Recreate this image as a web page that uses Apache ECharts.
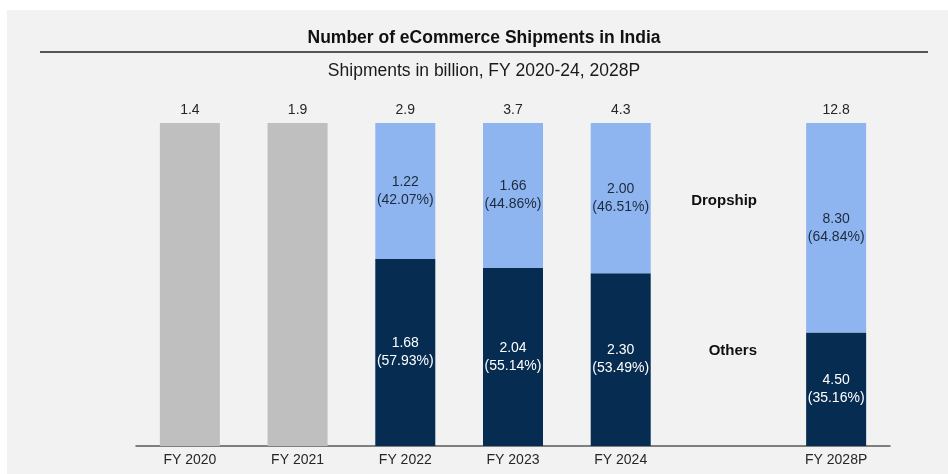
<!DOCTYPE html>
<html>
<head>
<meta charset="utf-8">
<script src="https://cdn.jsdelivr.net/npm/echarts@6/dist/echarts.min.js"></script>
<style>
  html, body { margin: 0; padding: 0; background: #ffffff; }
  #chart { width: 948px; height: 474px; }
</style>
</head>
<body>
<div id="chart"></div>
<script>
// Shipments in billion; the blank category keeps a gap before the projection year
const categories = ['FY 2020', 'FY 2021', 'FY 2022', 'FY 2023', 'FY 2024', '', 'FY 2028P'];
const totals     = [1.4, 1.9, 2.9, 3.7, 4.3, null, 12.8];
const others     = [null, null, 1.68, 2.04, 2.30, null, 4.50];
const dropship   = [null, null, 1.22, 1.66, 2.00, null, 8.30];

const FONT = '"Liberation Sans", Arial, sans-serif';

function pct(v, t) {
  return Math.round((v / t) * 10000 + 1e-6) / 100;
}

// Every bar is drawn as a 100% column; split years show each segment's share
const grayShare = totals.map((t, i) => (t != null && others[i] == null) ? 100 : null);
const othersShare = others.map((v, i) => v == null ? null : { value: v / totals[i] * 100, raw: v, share: pct(v, totals[i]) });
const dropShare = dropship.map((v, i) => v == null ? null : { value: v / totals[i] * 100, raw: v, share: pct(v, totals[i]) });
const topLine = totals.map(t => t == null ? null : 100);

function segLabel(p) {
  return p.data.raw.toFixed(2) + '\n(' + p.data.share.toFixed(2) + '%)';
}

const chart = echarts.init(document.getElementById('chart'), null, { renderer: 'canvas' });

chart.setOption({
  backgroundColor: '#f2f2f2',
  animation: false,
  grid: { left: 136, right: 58, top: 123, bottom: 28 },
  xAxis: {
    type: 'category',
    data: categories,
    axisTick: { show: false },
    axisLine: { lineStyle: { color: '#595959', width: 1.5 } },
    axisLabel: { color: '#262626', fontSize: 14, fontFamily: FONT, margin: 7 }
  },
  yAxis: { type: 'value', min: 0, max: 100, show: false },
  series: [
    {
      name: 'Total', type: 'bar', stack: 's', barWidth: 60,
      data: grayShare,
      itemStyle: { color: '#bfbfbf' }
    },
    {
      name: 'Others', type: 'bar', stack: 's', barWidth: 60,
      data: othersShare,
      itemStyle: { color: '#062c51' },
      label: {
        show: true, position: 'inside', formatter: segLabel,
        color: '#ffffff', fontSize: 14, lineHeight: 18, fontFamily: FONT
      }
    },
    {
      name: 'Dropship', type: 'bar', stack: 's', barWidth: 60,
      data: dropShare,
      itemStyle: { color: '#8fb5f1' },
      label: {
        show: true, position: 'inside', formatter: segLabel,
        color: '#1c2b3c', fontSize: 14, lineHeight: 18, fontFamily: FONT
      }
    },
    {
      name: 'TotalLabel', type: 'line',
      data: topLine,
      symbol: 'circle', symbolSize: 1,
      itemStyle: { color: 'rgba(0,0,0,0)' },
      lineStyle: { width: 0, color: 'rgba(0,0,0,0)' },
      label: {
        show: true, position: 'top', distance: 5,
        formatter: p => totals[p.dataIndex].toFixed(1),
        color: '#262626', fontSize: 14, fontFamily: FONT
      },
      z: 5
    }
  ],
  graphic: [
    { type: 'rect', shape: { x: 0, y: 0, width: 948, height: 10 }, style: { fill: '#ffffff' }, silent: true },
    { type: 'rect', shape: { x: 0, y: 0, width: 7, height: 474 }, style: { fill: '#ffffff' }, silent: true },
    {
      type: 'text', x: 484, y: 38,
      style: { text: 'Number of eCommerce Shipments in India', fill: '#111111',
               font: 'bold 17.5px ' + FONT, textAlign: 'center', textVerticalAlign: 'middle' }
    },
    {
      type: 'line', shape: { x1: 40, y1: 52, x2: 928, y2: 52 },
      style: { stroke: '#555555', lineWidth: 2 }
    },
    {
      type: 'text', x: 484, y: 71,
      style: { text: 'Shipments in billion, FY 2020-24, 2028P', fill: '#1a1a1a',
               font: '17.5px ' + FONT, textAlign: 'center', textVerticalAlign: 'middle' }
    },
    {
      type: 'text', x: 757, y: 201,
      style: { text: 'Dropship', fill: '#111111', font: 'bold 15px ' + FONT,
               textAlign: 'right', textVerticalAlign: 'middle' }
    },
    {
      type: 'text', x: 757, y: 351,
      style: { text: 'Others', fill: '#111111', font: 'bold 15px ' + FONT,
               textAlign: 'right', textVerticalAlign: 'middle' }
    }
  ]
});
</script>
</body>
</html>
